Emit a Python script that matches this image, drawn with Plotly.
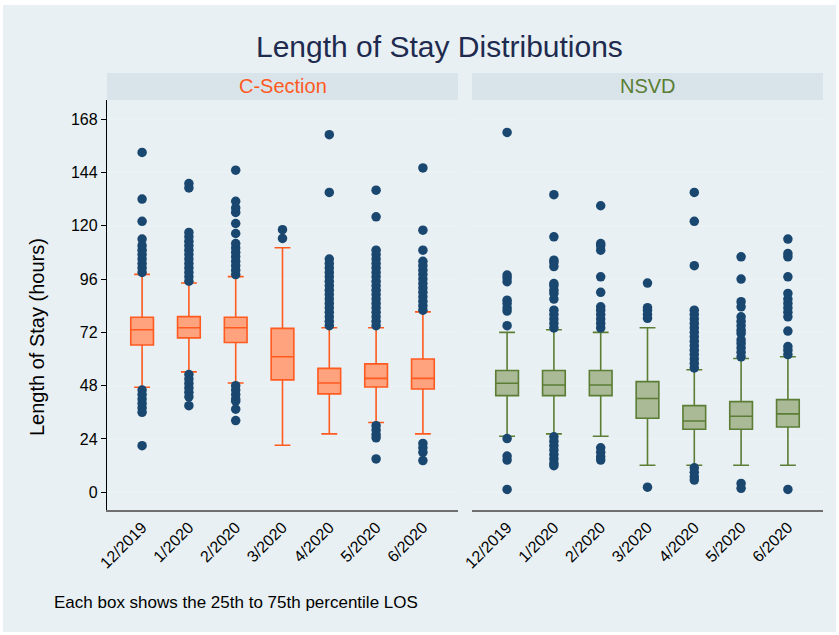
import plotly.graph_objects as go

W, H = 839, 635

months = ["12/2019", "1/2020", "2/2020", "3/2020", "4/2020", "5/2020", "6/2020"]
y_ticks = [0, 24, 48, 72, 96, 120, 144, 168]

# C-Section box statistics (hours)
cs_lower = [47.3, 54.2, 49.2, 21.2, 26.3, 31.4, 26.3]
cs_q1 = [66.3, 69.5, 67.4, 50.6, 44.3, 47.4, 46.5]
cs_median = [73.2, 74.1, 74.1, 61.0, 49.2, 51.3, 51.3]
cs_q3 = [78.8, 79.1, 78.8, 73.8, 55.8, 57.8, 60.0]
cs_upper = [98.1, 94.2, 97.1, 110.1, 74.1, 74.1, 81.2]

# C-Section outliers, one list per month
cs_outliers = [
    [99, 101, 103, 105, 107, 109, 111, 114, 122, 132, 153,
     46, 44, 42, 40, 38, 36, 21],
    [95, 97, 99, 101, 103, 105, 107, 109, 111, 113, 115, 117, 137, 139,
     53, 51, 49, 47, 45, 43, 39],
    [98, 100, 102, 104, 106, 108, 110, 112, 116.5, 121, 126, 128, 131, 145,
     48, 46, 44, 42, 41, 37.4, 32.3],
    [114.3, 118.2],
    [75, 77, 79, 81, 83, 85, 87, 89, 91, 93, 95, 97, 99, 101, 103, 105, 135, 161],
    [75, 77, 79, 81, 83, 85, 87, 89, 91, 93, 95, 97, 99, 101, 103, 105, 107, 109, 124, 136,
     30, 28, 26, 24.5, 15],
    [82, 84, 86, 88, 90, 92, 94, 96, 98, 100, 102, 104, 109, 118, 146,
     22, 20, 18, 14.3],
]

# NSVD box statistics (hours)
nv_lower = [25.2, 26.3, 25.2, 12.2, 12.2, 12.2, 12.2]
nv_q1 = [43.5, 43.5, 43.5, 33.3, 28.4, 28.4, 29.4]
nv_median = [49.1, 48.3, 48.3, 42.2, 32.1, 34.2, 35.3]
nv_q3 = [54.8, 54.8, 54.8, 49.8, 39.0, 40.8, 41.7]
nv_upper = [72.0, 73.2, 72.0, 74.1, 55.2, 60.2, 61.0]

nv_outliers = [
    [75, 81.6, 83, 85, 86.5, 94.8, 96.5, 97.8, 162,
     24.2, 16.3, 14.5, 1.3],
    [74, 76, 78, 80, 82, 87, 89.5, 91, 93, 94, 101.6, 103.5, 104.5, 115, 134,
     25, 23, 21, 19, 17, 15, 13, 12],
    [74, 76, 78, 80, 82, 83.5, 90, 97, 109, 111, 112, 129,
     20, 18, 16, 14.5],
    [78.3, 80, 82, 83.1, 94.2, 2.3],
    [56, 58, 60, 62, 64, 66, 68, 70, 72, 74, 76, 78, 80, 82, 102, 122, 135,
     11, 9, 7, 5.5],
    [61, 63, 65, 67, 68.6, 71.5, 73, 75, 77, 79, 83.5, 85.8, 96, 106,
     4, 1.8],
    [62, 64, 65.6, 72.6, 79, 81, 83, 85, 87, 89.5, 97, 106, 107.5, 114,
     1.3],
]

BG = "#E8F0F3"
STRIP = "#D8E4EA"
NAVY = "#1A476F"
ORANGE = "#FF5A1F"
ORANGE_FILL = "#FFA37F"
GREEN = "#5B7D34"
GREEN_FILL = "#AAB996"
FONT = "Liberation Sans"


def px_x(v):
    return v / W


def px_y(v):
    return (H - v) / H


fig = go.Figure()

panels = [
    ("x", "y", cs_lower, cs_q1, cs_median, cs_q3, cs_upper, cs_outliers, ORANGE, ORANGE_FILL),
    ("x2", "y2", nv_lower, nv_q1, nv_median, nv_q3, nv_upper, nv_outliers, GREEN, GREEN_FILL),
]

for xa, ya, lo, q1, med, q3, up, outs, lc, fc in panels:
    fig.add_trace(go.Box(
        x=months, q1=q1, median=med, q3=q3, lowerfence=lo, upperfence=up,
        xaxis=xa, yaxis=ya, boxpoints=False,
        fillcolor=fc, line=dict(color=lc, width=1.6),
        width=0.485, whiskerwidth=0.7, showlegend=False, hoverinfo="skip",
    ))
    ox, oy = [], []
    for m, vals in zip(months, outs):
        for v in vals:
            ox.append(m)
            oy.append(v)
    fig.add_trace(go.Scatter(
        x=ox, y=oy, mode="markers", xaxis=xa, yaxis=ya,
        marker=dict(color=NAVY, size=9.5, line=dict(width=0)),
        showlegend=False, hoverinfo="skip",
    ))

ydom = [px_y(510), px_y(100)]
yrange = [-7.97, 176.6]
xrange = [-0.75, 6.75]

common_x = dict(
    type="category", range=xrange, tickangle=-45, showgrid=False,
    showline=True, linecolor="#707070", linewidth=1.5, ticks="",
    tickfont=dict(family=FONT, size=16, color="#000000"), zeroline=False,
    fixedrange=True, automargin=False,
)

fig.update_layout(
    template="none",
    width=W, height=H,
    margin=dict(l=0, r=0, t=0, b=0, pad=0),
    paper_bgcolor="white",
    plot_bgcolor="white",
    xaxis=dict(domain=[px_x(107), px_x(458)], anchor="y", **common_x),
    xaxis2=dict(domain=[px_x(472), px_x(823)], anchor="y2", **common_x),
    yaxis=dict(
        domain=ydom, range=yrange, anchor="x", tickvals=y_ticks,
        showline=True, linecolor="#000000", linewidth=1.3,
        ticks="outside", ticklen=5, tickcolor="#000000", tickwidth=1,
        showgrid=True, gridcolor="#EAF2F3", gridwidth=1.5, zeroline=False,
        tickfont=dict(family=FONT, size=16, color="#000000"),
        automargin=False, fixedrange=True,
    ),
    yaxis2=dict(
        domain=ydom, range=yrange, anchor="x2", tickvals=y_ticks,
        showticklabels=False, showline=False, ticks="",
        showgrid=True, gridcolor="#EAF2F3", gridwidth=1.5, zeroline=False,
        automargin=False, fixedrange=True,
    ),
    shapes=[
        dict(type="rect", xref="paper", yref="paper", layer="below",
             x0=px_x(3), x1=px_x(836), y0=px_y(632), y1=px_y(5),
             fillcolor=BG, line=dict(width=0)),
        dict(type="rect", xref="paper", yref="paper", layer="below",
             x0=px_x(107), x1=px_x(458), y0=px_y(100), y1=px_y(73),
             fillcolor=STRIP, line=dict(width=0)),
        dict(type="rect", xref="paper", yref="paper", layer="below",
             x0=px_x(472), x1=px_x(823), y0=px_y(100), y1=px_y(73),
             fillcolor=STRIP, line=dict(width=0)),
    ],
    annotations=[
        dict(text="Length of Stay Distributions", xref="paper", yref="paper",
             x=px_x(439), y=px_y(46), showarrow=False, xanchor="center", yanchor="middle",
             font=dict(family=FONT, size=30, color="#1E2B4F")),
        dict(text="C-Section", xref="paper", yref="paper",
             x=px_x(282.5), y=px_y(86), showarrow=False, xanchor="center", yanchor="middle",
             font=dict(family=FONT, size=20, color=ORANGE)),
        dict(text="NSVD", xref="paper", yref="paper",
             x=px_x(647.5), y=px_y(86), showarrow=False, xanchor="center", yanchor="middle",
             font=dict(family=FONT, size=20, color=GREEN)),
        dict(text="Length of Stay (hours)", xref="paper", yref="paper",
             x=px_x(37), y=px_y(337), showarrow=False, xanchor="center", yanchor="middle",
             textangle=-90, font=dict(family=FONT, size=20, color="#000000")),
        dict(text="Each box shows the 25th to 75th percentile LOS", xref="paper", yref="paper",
             x=px_x(52), y=px_y(602), showarrow=False, xanchor="left", yanchor="middle",
             font=dict(family=FONT, size=17, color="#000000")),
    ],
)

fig.write_html(
    "out.html",
    config={"displayModeBar": False},
    post_script="document.body.style.margin='0';document.body.style.overflow='hidden';",
)
